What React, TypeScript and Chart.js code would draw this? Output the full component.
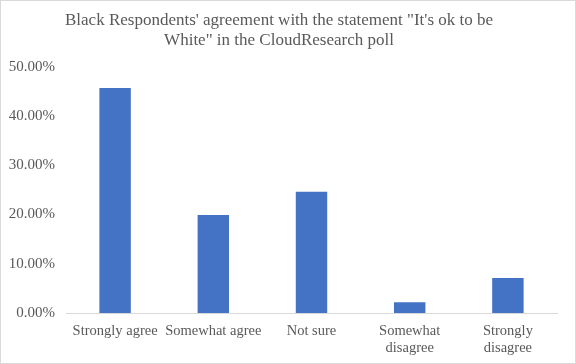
import React, { useEffect, useRef } from "react";
import { Chart, registerables } from "chart.js";

Chart.register(...registerables);

const categories: (string | string[])[] = [
  "Strongly agree",
  "Somewhat agree",
  "Not sure",
  ["Somewhat", "disagree"],
  ["Strongly", "disagree"],
];
const values = [0.457, 0.199, 0.246, 0.022, 0.071];
const titleLines = [
  "Black Respondents' agreement with the statement \"It's ok to be",
  "White\" in the CloudResearch poll",
];

export default function App() {
  const ref = useRef<HTMLCanvasElement>(null);
  useEffect(() => {
    document.body.style.margin = "0";
    const ctx = ref.current!;
    const chart = new Chart(ctx, {
      type: "bar",
      data: {
        labels: categories,
        datasets: [
          {
            data: values,
            backgroundColor: "#4472C4",
            categoryPercentage: 1,
            barPercentage: 0.32,
          },
        ],
      },
      options: {
        animation: false,
        responsive: false,
        maintainAspectRatio: false,
        layout: { padding: { left: 0, right: 18, top: 0, bottom: 8 } },
        plugins: {
          legend: { display: false },
          tooltip: { enabled: false },
          title: {
            display: true,
            text: titleLines,
            color: "#595959",
            font: { family: "Liberation Serif", size: 17, weight: "normal", lineHeight: 1.2 },
            padding: { top: 9, bottom: 16 },
          },
        },
        scales: {
          x: {
            grid: { display: false, drawTicks: false },
            border: { display: true, color: "#d9d9d9", width: 1 },
            ticks: {
              color: "#595959",
              font: { family: "Liberation Serif", size: 14.5, lineHeight: 1.2 },
              padding: 9,
              maxRotation: 0,
              autoSkip: false,
            },
            afterFit: (s: any) => {
              s.height = 42;
            },
          },
          y: {
            min: 0,
            max: 0.5,
            grid: { display: false, drawTicks: false },
            border: { display: false },
            ticks: {
              stepSize: 0.1,
              color: "#595959",
              font: { family: "Liberation Serif", size: 15 },
              padding: 11,
              callback: (v: any) => (Number(v) * 100).toFixed(2) + "%",
            },
            afterFit: (s: any) => {
              s.width = 65;
            },
          },
        },
      },
    });
    return () => chart.destroy();
  }, []);
  return (
    <div
      style={{
        width: 576,
        height: 364,
        boxSizing: "border-box",
        border: "1px solid #d9d9d9",
        background: "#fff",
      }}
    >
      <canvas ref={ref} width={574} height={362} style={{ display: "block" }} />
    </div>
  );
}
